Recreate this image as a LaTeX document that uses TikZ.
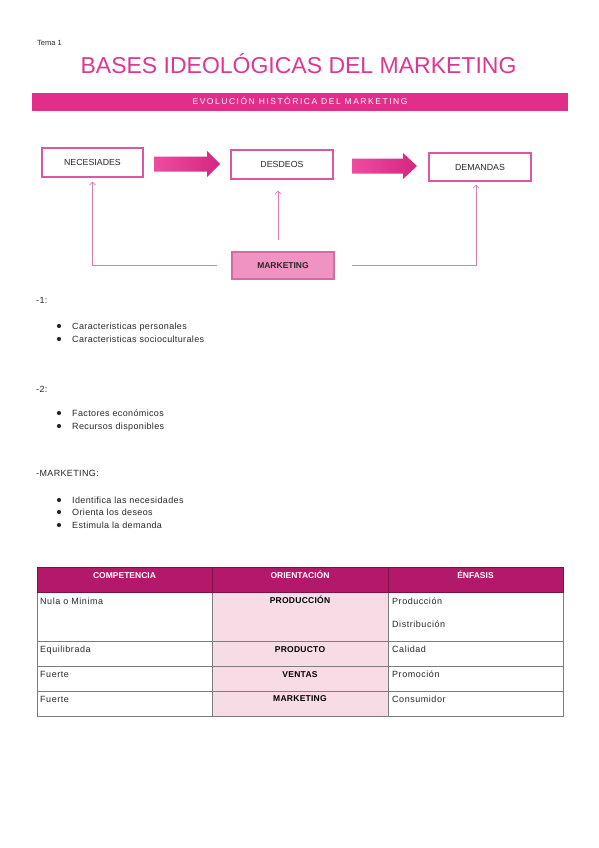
\documentclass[tikz,border=0pt]{standalone}
\usepackage{fontspec}
\setmainfont{Liberation Sans}
\usetikzlibrary{arrows.meta}
\definecolor{titlepink}{RGB}{222,55,145}
\definecolor{bannerpink}{RGB}{226,46,139}
\definecolor{boxborder}{RGB}{218,88,158}
\definecolor{arrA}{RGB}{238,76,160}
\definecolor{arrB}{RGB}{212,38,128}
\definecolor{mkfill}{RGB}{241,147,194}
\definecolor{mkborder}{RGB}{214,106,163}
\definecolor{connpink}{RGB}{226,125,180}
\definecolor{thead}{RGB}{179,24,106}
\definecolor{midfill}{RGB}{247,219,229}
\definecolor{gridgray}{RGB}{125,125,125}
\definecolor{txt}{RGB}{40,40,40}
\begin{document}
\begin{tikzpicture}[x=1pt,y=-1pt,
  body/.style={anchor=base west,inner sep=0pt,text=txt,font=\fontsize{9}{11}\selectfont\addfontfeature{LetterSpace=4}},
  boxnode/.style={draw=boxborder,line width=1.1pt,fill=white,minimum width=101pt,minimum height=28pt,inner sep=0pt,text=txt,font=\fontsize{8.8}{10}\selectfont},
  conn/.style={draw=connpink,line width=0.8pt,-{Straight Barb[length=3pt,width=6pt]}},
  thtext/.style={anchor=base,inner sep=0pt,text=white,font=\fontsize{8.5}{10}\selectfont\bfseries},
  tmid/.style={anchor=base,inner sep=0pt,text=black,font=\fontsize{8.5}{10}\selectfont\bfseries\addfontfeature{LetterSpace=3}},
  tcell/.style={anchor=base west,inner sep=0pt,text=txt,font=\fontsize{9}{10}\selectfont\addfontfeature{LetterSpace=6}},
  bulletdot/.style={fill=txt}
]
\useasboundingbox (0,0) rectangle (599,848);
\fill[white] (0,0) rectangle (599,848);

% header
\node[body,font=\fontsize{7.5}{9}\selectfont] (tema) at (37,46) {Tema 1};
\node[anchor=base,inner sep=0pt,text=titlepink,font=\fontsize{23}{27}\selectfont] (title) at (298.5,73.5) {BASES IDEOLÓGICAS DEL MARKETING};
\fill[bannerpink] (32,93) rectangle (568,111);
\node[anchor=base,inner sep=0pt,text=white,font=\fontsize{8.5}{10}\selectfont\addfontfeature{LetterSpace=18}] (banner) at (300,105) {EVOLUCIÓN HISTÓRICA DEL MARKETING};

% diagram
\node[boxnode,minimum height=29pt] (nec) at (92.5,162.5) {NECESIADES};
\node[boxnode,minimum width=102pt,minimum height=29pt] (des) at (282,164.5) {DESDEOS};
\node[boxnode,minimum width=102pt] (dem) at (480,167) {DEMANDAS};
\node[boxnode,draw=mkborder,fill=mkfill,minimum width=102pt,minimum height=27pt,font=\fontsize{8.5}{10}\selectfont\bfseries] (mk) at (283,265.5) {MARKETING};

\shade[left color=arrA,right color=arrB] (154,156.5) -- (207,156.5) -- (207,151) -- (220,164) -- (207,177) -- (207,171.5) -- (154,171.5) -- cycle;
\shade[left color=arrA,right color=arrB] (352,158.5) -- (403,158.5) -- (403,153) -- (417,166) -- (403,179) -- (403,173.5) -- (352,173.5) -- cycle;

\draw[conn] ([xshift=-14pt]mk.west) -| ([yshift=-4pt]nec.south);
\draw[conn] ([xshift=-5pt,yshift=11pt]mk.north) -- ([xshift=-4pt,yshift=-11pt]des.south);
\draw[conn] ([xshift=17pt]mk.east) -| ([xshift=-4pt,yshift=-3pt]dem.south);

% lists
\node[body] (l1) at (36,303) {-1:};
\fill[bulletdot] (59,326) circle (2.1);
\node[body] (a1) at (72,329) {Caracteristicas personales};
\fill[bulletdot] (59,339) circle (2.1);
\node[body] (a2) at (72,342) {Caracteristicas socioculturales};

\node[body] (l2) at (36,392) {-2:};
\fill[bulletdot] (59,413) circle (2.1);
\node[body] (b1) at (72,416) {Factores económicos};
\fill[bulletdot] (59,426) circle (2.1);
\node[body] (b2) at (72,429) {Recursos disponibles};

\node[body] (l3) at (36,476) {-MARKETING:};
\fill[bulletdot] (59,500) circle (2.1);
\node[body] (c1) at (72,503) {Identifica las necesidades};
\fill[bulletdot] (59,512) circle (2.1);
\node[body] (c2) at (72,515) {Orienta los deseos};
\fill[bulletdot] (59,525) circle (2.1);
\node[body] (c3) at (72,528) {Estimula la demanda};

% table
\fill[thead] (37,567) rectangle (563,592);
\fill[midfill] (212,592) rectangle (388,716);
\draw[gridgray,line width=0.7pt] (37,592) rectangle (563,716);
\foreach \yy in {641,666,691} \draw[gridgray,line width=0.7pt] (37,\yy) -- (563,\yy);
\draw[gridgray,line width=0.7pt] (212,567) -- (212,716);
\draw[gridgray,line width=0.7pt] (388,567) -- (388,716);
\draw[thead!70!black,line width=0.7pt] (37,567) rectangle (563,592);
\draw[thead!70!black,line width=0.7pt] (212,567) -- (212,592) (388,567) -- (388,592);

\node[thtext] (h1) at (124.5,578) {COMPETENCIA};
\node[thtext] (h2) at (300,578) {ORIENTACIÓN};
\node[thtext] (h3) at (475.5,578) {ÉNFASIS};

\node[tcell] (r1a) at (40,604) {Nula o Minima};
\node[tmid] (r1b) at (300,603) {PRODUCCIÓN};
\node[tcell] (r1c) at (392,604) {Producción};
\node[tcell] (r1d) at (392,627) {Distribución};

\node[tcell] (r2a) at (40,652) {Equilibrada};
\node[tmid] (r2b) at (300,652) {PRODUCTO};
\node[tcell] (r2c) at (392,652) {Calidad};

\node[tcell] (r3a) at (40,677) {Fuerte};
\node[tmid] (r3b) at (300,677) {VENTAS};
\node[tcell] (r3c) at (392,677) {Promoción};

\node[tcell] (r4a) at (40,702) {Fuerte};
\node[tmid] (r4b) at (300,701) {MARKETING};
\node[tcell] (r4c) at (392,702) {Consumidor};
\end{tikzpicture}
\end{document}
